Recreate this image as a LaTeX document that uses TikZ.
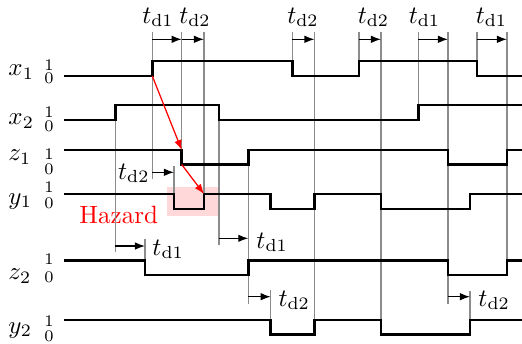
\documentclass[tikz,border=0pt]{standalone}
\usepackage{amsmath}
\usetikzlibrary{arrows.meta}
\tikzstyle{signal}=[line width=1.1pt]
\tikzstyle{guide}=[black!45, line width=0.5pt]
\tikzstyle{delay}=[-{Latex[length=4pt, width=3pt]}, line width=0.5pt]
\tikzstyle{cause}=[-{Latex[length=4pt, width=3pt]}, red, line width=0.5pt]
\tikzstyle{level}=[inner sep=0, font=\fontsize{6.5}{6.5}\selectfont]
\tikzstyle{dlabel}=[inner sep=0, anchor=base]
\newcommand{\tdone}{$t_{\mathrm{d1}}$}
\newcommand{\tdtwo}{$t_{\mathrm{d2}}$}
\begin{document}
\begin{tikzpicture}[x=0.4pt, y=-0.4pt]
    \useasboundingbox (0,0) rectangle (522,343);
    % hazard
    \fill[red!15] (166.7,186.7) rectangle (218,216);
    \node[red, inner sep=0, anchor=base west] (hazard) at (79,223) {Hazard};
    % guide lines
    \foreach \x/\ya/\yb in {115.5/120/252, 145/239/275, 152.3/32/179, 174/166/209,
                            181.7/32/164.5, 204/32/209, 219/120/245, 248.3/164.5/304,
                            270.7/290/334.5, 292.5/32/76, 314.5/32/334.5, 359/32/76,
                            381/32/334.5, 418.5/32/120, 448/32/304, 470/291/334.5,
                            477/32/76, 507/32/275}
        \draw[guide] (\x,\ya) -- (\x,\yb);
    % signal names
    \foreach \name/\base/\one/\zero [count=\i] in {x_1/75.4/65/78, x_2/124.4/112.5/126.7,
                            z_1/160.4/154/169.7, y_1/204/187/203.7,
                            z_2/279.4/259/277.5, y_2/333/321/336.7} {
        \node[inner sep=0, anchor=base west] (row\i) at (8,\base) {$\name$};
        \node[level] (hi\i) at (49,\one) {1};
        \node[level] (lo\i) at (49,\zero) {0};
    }
    % waveforms
    \draw[signal] (64,76) -| (152.3,61) -| (292.5,76) -| (359,61) -| (477,76) -- (522,76);
    \draw[signal] (64,120) -| (115.5,105) -| (219,120) -| (418.5,105) -- (522,105);
    \draw[signal] (64,150) -| (181.7,164.5) -| (248.3,150) -| (448,164.5) -| (507,150) -- (522,150);
    \draw[signal] (64,194) -| (174,209) -| (204,194) -| (270.7,209) -| (314.5,194)
                  -| (381,209) -| (470,194) -- (522,194);
    \draw[signal] (64,260.7) -| (145,275) -| (248.3,260.7) -| (448,275) -| (507,260.7) -- (522,260.7);
    \draw[signal] (64,320) -| (270.7,334.5) -| (314.5,320) -| (381,334.5) -| (470,320) -- (522,320);
    % delays
    \foreach \a/\b/\y [count=\i] in {152.3/181.7/39.3, 181.7/204/39.3, 292.5/314.5/39.3,
                            359/381/39.3, 418.5/448/39.3, 477/507/39.3, 152.3/174/172.3,
                            115.5/145/246, 219/248.3/238.3, 248.3/270.7/296.7, 448/470/296.7} {
        \coordinate (d\i s) at (\a,\y);
        \coordinate (d\i e) at (\b,\y);
        \draw[delay] (d\i s) -- (d\i e);
    }
    \node[dlabel] (t1) at (158,23) {\tdone};
    \node[dlabel] (t2) at (195,23) {\tdtwo};
    \node[dlabel] (t3) at (303,23) {\tdtwo};
    \node[dlabel] (t4) at (373.5,23) {\tdtwo};
    \node[dlabel] (t5) at (424.5,23) {\tdone};
    \node[dlabel] (t6) at (491.5,23) {\tdone};
    \node[dlabel, anchor=base east] (t7) at (150,179) {\tdtwo};
    \node[dlabel, anchor=base west] (t8) at (152,255) {\tdone};
    \node[dlabel, anchor=base west] (t9) at (256,248) {\tdone};
    \node[dlabel, anchor=base west] (t10) at (278,306) {\tdtwo};
    \node[dlabel, anchor=base west] (t11) at (478,306) {\tdtwo};
    % cause chain
    \coordinate (x1up) at (152.3,76);
    \coordinate (z1dn) at (181.7,150);
    \coordinate (z1lo) at (181.7,164.5);
    \coordinate (y1up) at (204,194);
    \draw[cause] (x1up) -- (z1dn);
    \draw[cause] (z1lo) -- (y1up);
\end{tikzpicture}
\end{document}
